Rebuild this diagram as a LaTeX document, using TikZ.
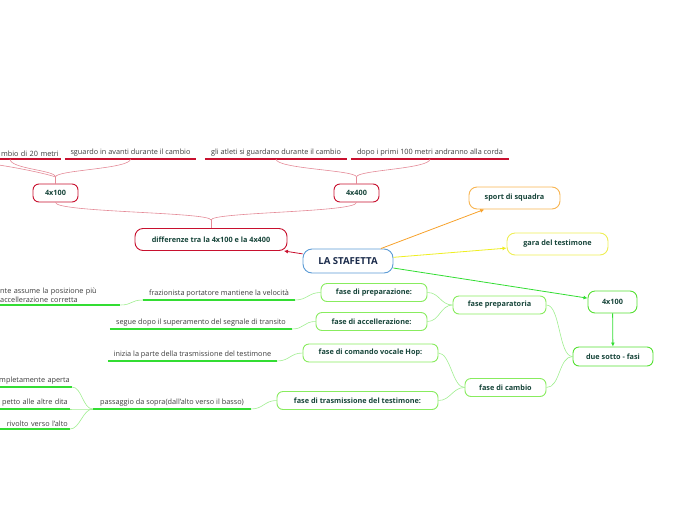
\documentclass[tikz,border=0pt]{standalone}
\usepackage{fontspec}
\setmainfont{Open Sans}
\usetikzlibrary{arrows.meta}
\definecolor{crim}{HTML}{C8102E}
\definecolor{pinkc}{HTML}{E48A97}
\definecolor{orl}{HTML}{F7A12A}
\definecolor{orb}{HTML}{F8B551}
\definecolor{yel}{HTML}{EEEE22}
\definecolor{yelb}{HTML}{EEEE55}
\definecolor{gra}{HTML}{33DD33}
\definecolor{grb}{HTML}{55E033}
\definecolor{grlb}{HTML}{88EC5E}
\definecolor{grc}{HTML}{A0EE90}
\definecolor{blu}{HTML}{5B9BD5}
\definecolor{dkg}{HTML}{17453A}
\definecolor{navy}{HTML}{1A2A4A}
\definecolor{lgray}{HTML}{3A3A3A}
\tikzset{
  box/.style={draw, rounded corners=6pt, fill=white, line width=0.9pt, text=dkg,
    font=\bfseries\fontsize{7.3}{8.5}\selectfont, inner sep=0pt},
  leaf/.style={text=lgray, font=\fontsize{7.3}{9.4}\selectfont, inner xsep=2pt, inner ysep=2.2pt, anchor=south},
  leafR/.style={leaf, anchor=south east, align=right, text width=100pt},
  uline/.style={line width=1.2pt},
  curve/.style={line width=0.6pt},
  arr/.style={line width=0.8pt, -{Latex[length=4pt,width=4pt]}},
}
\begin{document}
\begin{tikzpicture}[x=1pt,y=-1pt]
\useasboundingbox (0,0) rectangle (696,520);
% central
\node[box, draw=blu, text=navy, font=\bfseries\fontsize{9.6}{11}\selectfont, minimum width=90pt, minimum height=24pt, rounded corners=9pt] (central) at (348,261) {LA STAFETTA};
% red branch
\node[box, draw=crim, minimum width=152pt, minimum height=22pt, rounded corners=8pt] (diff) at (211,239.5) {differenze tra la 4x100 e la 4x400};
\node[box, draw=crim, minimum width=45pt, minimum height=18pt] (r100) at (55.5,193) {4x100};
\node[box, draw=crim, minimum width=45pt, minimum height=18pt] (r400) at (356.5,193) {4x400};
\node[leafR] (l1) at (61,159) {mbio di 20 metri};
\node[leaf, minimum width=131pt] (l2) at (130.5,159) {sguardo in avanti durante il cambio};
\node[leaf, minimum width=142pt] (l3) at (276,159) {gli atleti si guardano durante il cambio};
\node[leaf, minimum width=158pt] (l4) at (430,159) {dopo i primi 100 metri andranno alla corda};
\coordinate (c1) at (10,159);
\coordinate (off1) at (-30,162);
\coordinate (j1) at (55.5,177);
\coordinate (j2) at (356.5,177);
\coordinate (j3) at (211,220);
\draw[uline, crim] (l1.south west) -- (l1.south east);
\draw[uline, crim] (l2.south west) -- (l2.south east);
\draw[uline, crim] (l3.south west) -- (l3.south east);
\draw[uline, crim] (l4.south west) -- (l4.south east);
\draw[curve, pinkc] (r100.north) -- (j1);
\draw[curve, pinkc] (j1) .. controls +(0,-7) and +(0,10) .. (c1);
\draw[curve, pinkc] (j1) .. controls +(0,-7) and +(0,10) .. (l2.south);
\draw[curve, pinkc] (j1) .. controls +(-10,-4) and +(20,0) .. (off1);
\draw[curve, pinkc] (r400.north) -- (j2);
\draw[curve, pinkc] (j2) .. controls +(0,-7) and +(0,10) .. (l3.south);
\draw[curve, pinkc] (j2) .. controls +(0,-7) and +(0,10) .. (l4.south);
\draw[curve, pinkc] (diff.north) -- (j3);
\draw[curve, pinkc] (j3) .. controls +(0,-8) and +(0,10) .. (r100.south);
\draw[curve, pinkc] (j3) .. controls +(0,-8) and +(0,10) .. (r400.south);
\draw[arr, crim] (central) -- (diff);
% orange / yellow
\node[box, draw=orb, minimum width=91pt, minimum height=22pt, rounded corners=8pt] (sport) at (514.5,198) {sport di squadra};
\node[box, draw=yelb, minimum width=101pt, minimum height=22pt, rounded corners=8pt] (gara) at (557.5,244) {gara del testimone};
\draw[arr, orl] (central) -- (sport);
\draw[arr, yel] (central) -- (gara);
% green branch
\node[box, draw=grb, minimum width=49pt, minimum height=22pt, rounded corners=7pt] (g100) at (612.5,302) {4x100};
\node[box, draw=grb, minimum width=80pt, minimum height=19pt] (due) at (613,356.5) {due sotto - fasi};
\draw[arr, gra] (central) -- (g100);
\draw[arr, gra] (g100) -- (due);
\node[box, draw=grlb, minimum width=93pt, minimum height=18pt] (fprep) at (499.5,305) {fase preparatoria};
\node[box, draw=grlb, minimum width=81pt, minimum height=18pt] (fcam) at (505.5,387.5) {fase di cambio};
\node[box, draw=grlb, minimum width=106pt, minimum height=18pt] (fdp) at (374,292.5) {fase di preparazione:};
\node[box, draw=grlb, minimum width=111pt, minimum height=18pt] (fac) at (371.5,321.5) {fase di accellerazione:};
\node[box, draw=grlb, minimum width=135pt, minimum height=18pt] (fhop) at (370.5,353) {fase di comando vocale Hop:};
\node[box, draw=grlb, minimum width=161pt, minimum height=18pt] (ftr) at (357.5,400.5) {fase di trasmissione del testimone:};
\draw[curve, grc] (due.west) .. controls +(-14,0) and +(14,0) .. (fprep.east);
\draw[curve, grc] (due.west) .. controls +(-14,0) and +(14,0) .. (fcam.east);
\draw[curve, grc] (fprep.west) .. controls +(-12,0) and +(12,0) .. (fdp.east);
\draw[curve, grc] (fprep.west) .. controls +(-12,0) and +(12,0) .. (fac.east);
\draw[curve, grc] (fcam.west) .. controls +(-12,0) and +(12,0) .. (fhop.east);
\draw[curve, grc] (fcam.west) .. controls +(-12,0) and +(12,0) .. (ftr.east);
% green leaves
\node[leaf, minimum width=152pt] (l5) at (219,300) {frazionista portatore mantiene la velocità};
\node[leaf, anchor=south west, align=left, text width=120pt, inner xsep=0pt] (l6) at (0,305) {nte assume la posizione più\\accellerazione corretta};
\node[leaf, minimum width=182pt] (l7) at (201,329) {segue dopo il superamento del segnale di transito};
\node[leaf, minimum width=169pt] (l8) at (192.5,361) {inizia la parte della trasmissione del testimone};
\node[leaf, minimum width=158pt] (l9) at (172,409) {passaggio da sopra(dall'alto verso il basso)};
\node[leafR] (l10) at (72,387) {mpletamente aperta};
\node[leafR] (l11) at (70,409) {petto alle altre dita};
\node[leafR] (l12) at (70,429) {rivolto verso l'alto};
\foreach \n in {l5,l6,l7,l8,l9,l10,l11,l12}
  \draw[uline, gra] (\n.south west) -- (\n.south east);
\draw[curve, grc] (fdp.west) .. controls +(-12,0) and +(12,0) .. (l5.south east);
\draw[curve, grc] (l5.south west) .. controls +(-12,0) and +(12,0) .. (l6.south east);
\draw[curve, grc] (fac.west) .. controls +(-12,0) and +(12,0) .. (l7.south east);
\draw[curve, grc] (fhop.west) .. controls +(-12,0) and +(12,0) .. (l8.south east);
\draw[curve, grc] (ftr.west) .. controls +(-12,0) and +(12,0) .. (l9.south east);
\draw[curve, grc] (l9.south west) .. controls +(-10,0) and +(10,0) .. (l10.south east);
\draw[curve, grc] (l9.south west) .. controls +(-10,0) and +(10,0) .. (l11.south east);
\draw[curve, grc] (l9.south west) .. controls +(-10,0) and +(10,0) .. (l12.south east);
\end{tikzpicture}
\end{document}
